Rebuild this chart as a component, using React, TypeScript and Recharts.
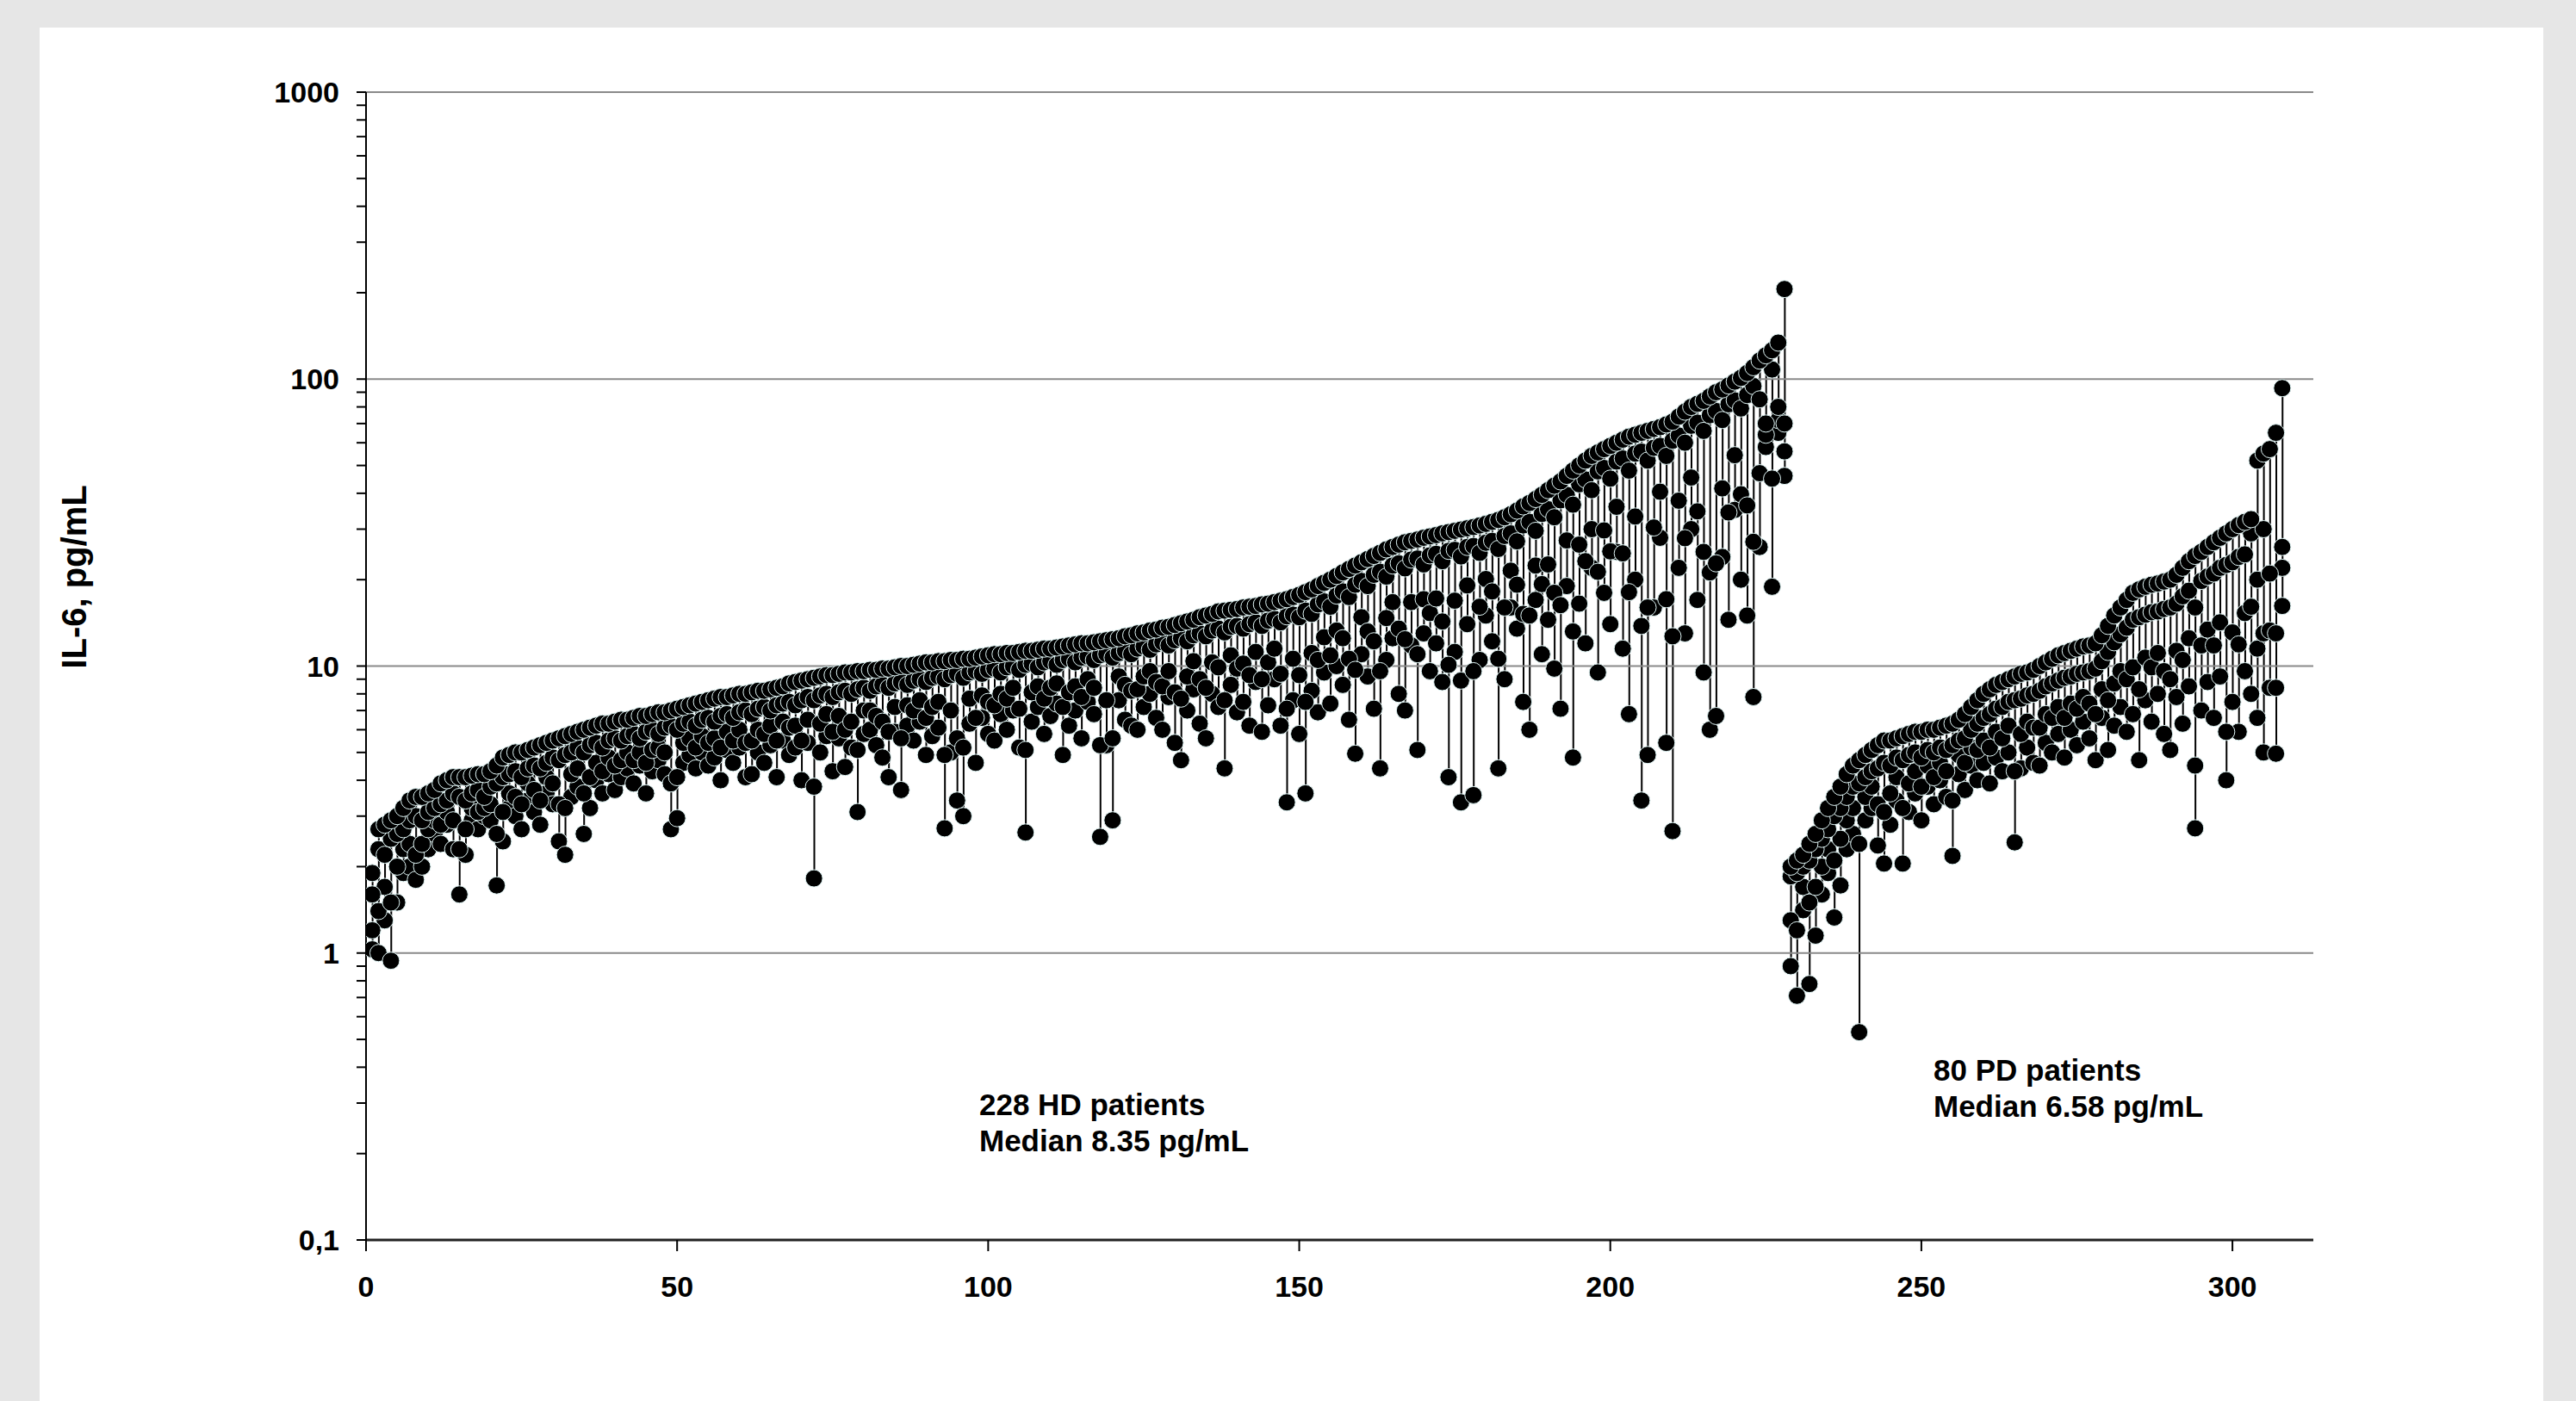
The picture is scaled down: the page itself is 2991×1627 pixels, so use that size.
import React from "react";
import {
  ComposedChart,
  XAxis,
  YAxis,
  Bar,
  Scatter,
  ReferenceLine,
} from "recharts";

const FONT = "'Liberation Sans', Arial, sans-serif";

// HD patients (x = 1..228), IL-6 pg/mL: highest, two middle and lowest value
const hdTop = [
  1.9, 2.7, 2.8, 2.9, 3.0, 3.2, 3.4, 3.5, 3.5, 3.6,
  3.7, 3.9, 4.0, 4.1, 4.1, 4.1, 4.15, 4.2, 4.2, 4.3,
  4.5, 4.8, 4.9, 5.0, 5.0, 5.1, 5.2, 5.3, 5.4, 5.5,
  5.6, 5.7, 5.8, 5.9, 6.0, 6.1, 6.2, 6.3, 6.3, 6.4,
  6.5, 6.5, 6.6, 6.7, 6.7, 6.8, 6.9, 6.9, 7.0, 7.1,
  7.2, 7.3, 7.4, 7.5, 7.6, 7.7, 7.8, 7.8, 7.9, 8.0,
  8.0, 8.1, 8.2, 8.2, 8.3, 8.4, 8.5, 8.7, 8.8, 8.9,
  9.0, 9.1, 9.2, 9.3, 9.3, 9.4, 9.5, 9.5, 9.6, 9.6,
  9.7, 9.7, 9.8, 9.8, 9.9, 10.0, 10.0, 10.1, 10.2, 10.3,
  10.3, 10.4, 10.4, 10.5, 10.5, 10.6, 10.6, 10.7, 10.8, 10.9,
  11.0, 11.0, 11.1, 11.1, 11.2, 11.3, 11.3, 11.4, 11.5, 11.5,
  11.6, 11.7, 11.8, 11.9, 12.0, 12.0, 12.1, 12.2, 12.3, 12.4,
  12.5, 12.7, 12.8, 13.0, 13.1, 13.3, 13.4, 13.6, 13.7, 13.9,
  14.1, 14.3, 14.5, 14.8, 15.0, 15.2, 15.5, 15.6, 15.7, 15.8,
  16.0, 16.1, 16.2, 16.4, 16.5, 16.7, 16.9, 17.1, 17.4, 17.7,
  18.1, 18.5, 19.0, 19.5, 20.0, 20.6, 21.2, 21.8, 22.4, 23.0,
  23.6, 24.2, 24.8, 25.5, 26.0, 26.5, 27.0, 27.3, 27.6, 28.0,
  28.3, 28.6, 29.0, 29.3, 29.6, 29.9, 30.2, 30.5, 30.9, 31.3,
  31.8, 32.3, 33.0, 33.8, 34.8, 36.0, 37.0, 38.2, 39.5, 41.0,
  42.5, 44.0, 46.0, 48.0, 50.0, 52.0, 54.0, 55.5, 57.0, 58.5,
  60.0, 61.5, 63.0, 64.0, 65.0, 66.0, 67.0, 68.0, 69.5, 71.0,
  74.0, 77.0, 80.0, 82.0, 84.0, 87.0, 90.0, 92.0, 95.0, 98.0,
  101, 105, 110, 116, 121, 126, 134, 206,
];

const hdMid1 = [
  1.6, 2.3, 2.2, 2.5, 2.6, 2.7, 2.9, 3.0, 2.9, 3.1,
  3.2, 3.3, 3.4, 3.6, 3.5, 3.4, 3.6, 3.7, 3.5, 3.8,
  3.9, 4.1, 4.2, 4.3, 4.1, 4.4, 4.5, 4.4, 4.6, 4.8,
  4.7, 4.9, 5.0, 5.2, 5.0, 5.3, 5.4, 5.2, 5.5, 5.6,
  5.5, 5.7, 5.8, 5.6, 5.9, 6.0, 5.8, 6.1, 6.2, 6.0,
  6.3, 6.4, 6.2, 6.5, 6.6, 6.4, 6.7, 6.8, 6.6, 6.9,
  7.0, 6.8, 7.1, 7.2, 7.0, 7.3, 7.4, 7.5, 7.3, 7.6,
  7.8, 7.6, 7.9, 8.0, 7.8, 8.1, 8.2, 8.0, 8.3, 8.4,
  8.2, 8.5, 8.6, 8.4, 8.7, 8.8, 8.6, 8.9, 9.0, 8.8,
  9.1, 9.2, 9.0, 9.3, 9.4, 9.1, 9.5, 9.6, 9.4, 9.7,
  9.8, 9.5, 9.9, 10.0, 9.7, 10.1, 10.2, 9.9, 10.3, 10.4,
  10.1, 10.5, 10.6, 10.3, 10.7, 10.8, 10.5, 10.9, 11.0, 10.7,
  11.1, 11.3, 11.0, 11.5, 11.7, 11.4, 11.9, 12.1, 11.8, 12.3,
  12.5, 12.2, 12.8, 13.0, 12.7, 13.3, 13.5, 13.1, 13.7, 13.8,
  13.5, 14.0, 14.2, 13.8, 14.4, 14.6, 14.2, 14.9, 15.1, 14.8,
  15.6, 15.2, 16.4, 16.8, 16.1, 17.6, 18.2, 17.4, 19.2, 19.8,
  19.0, 20.8, 21.3, 20.5, 22.4, 22.8, 21.9, 23.5, 23.7, 22.6,
  24.3, 24.6, 23.2, 25.2, 25.4, 24.1, 26.0, 26.2, 24.8, 26.9,
  27.3, 25.6, 28.4, 29.0, 27.2, 30.9, 31.8, 29.6, 33.9, 35.2,
  33.0, 37.8, 39.5, 36.5, 43.0, 44.7, 41.0, 47.7, 49.0, 45.0,
  51.6, 52.9, 48.0, 55.0, 55.9, 52.0, 57.6, 58.5, 54.0, 61.0,
  63.6, 60.0, 68.8, 70.5, 66.0, 74.8, 77.4, 72.0, 81.7, 84.3,
  79.0, 88.0, 94.6, 85.0, 70.0, 108, 80.0, 70.0,
];

const hdMid2 = [
  1.2, 1.4, 1.7, 1.5, 2.0, 2.3, 2.4, 2.2, 2.4, 2.7,
  2.9, 2.8, 3.1, 2.9, 2.3, 2.7, 3.2, 3.1, 3.2, 3.3,
  2.6, 3.1, 3.6, 3.5, 3.3, 3.9, 3.7, 3.4, 4.1, 3.9,
  3.3, 3.2, 4.2, 4.4, 3.6, 4.1, 4.6, 4.3, 4.8, 4.5,
  4.7, 5.0, 4.7, 5.0, 4.6, 5.1, 5.2, 5.0, 3.9, 4.1,
  5.4, 5.6, 5.2, 5.7, 5.4, 5.6, 5.2, 5.9, 5.5, 6.0,
  5.4, 5.5, 6.0, 5.8, 6.2, 5.5, 6.4, 6.1, 6.2, 5.5,
  6.5, 3.8, 6.3, 6.8, 5.9, 6.7, 6.0, 6.4, 5.1, 7.0,
  7.0, 6.7, 6.4, 5.9, 7.2, 5.6, 7.3, 7.0, 7.6, 6.6,
  7.2, 7.5, 4.9, 7.0, 5.6, 5.2, 7.7, 6.6, 7.9, 7.5,
  7.3, 8.0, 7.7, 8.4, 7.1, 5.1, 8.1, 8.5, 7.7, 8.4,
  8.7, 7.2, 8.1, 8.5, 7.8, 9.0, 8.4, 5.3, 7.6, 5.6,
  9.2, 8.6, 8.2, 8.3, 9.2, 9.6, 8.8, 8.5, 9.6, 8.1,
  7.7, 9.2, 10.4, 9.0, 8.4, 10.3, 9.9, 7.6, 10.9, 9.8,
  10.2, 9.3, 11.2, 9.0, 10.3, 11.5, 9.4, 7.1, 10.6, 9.3,
  7.5, 11.1, 10.5, 12.6, 10.9, 13.3, 12.5, 10.6, 9.7, 14.8,
  13.2, 12.2, 9.6, 14.7, 16.7, 13.5, 12.4, 16.7, 11.0, 17.1,
  15.3, 17.2, 14.3, 10.1, 16.9, 8.9, 19.1, 9.6, 16.1, 20.1,
  18.2, 10.6, 16.0, 21.5, 19.2, 15.2, 15.0, 22.4, 19.3, 22.6,
  18.0, 16.3, 27.4, 13.2, 26.5, 23.2, 30.0, 21.3, 29.7, 25.1,
  35.9, 24.7, 18.1, 33.2, 13.8, 16.0, 30.4, 40.5, 17.1, 12.7,
  37.7, 27.9, 45.4, 34.6, 25.0, 21.2, 22.8, 41.6, 34.3, 54.3,
  39.7, 36.3, 27.1, 47.0, 64.0, 45.0, 72.0, 56.0,
];

const hdLow = [
  1.03, 1.0, 1.3, 0.94, 1.5, 1.9, 2.0, 1.8, 2.0, 2.3,
  2.6, 2.4, 2.8, 2.3, 1.6, 2.2, 2.9, 2.7, 3.0, 2.9,
  1.72, 2.45, 3.2, 3.0, 2.7, 3.4, 3.1, 2.8, 3.6, 3.3,
  2.45, 2.2, 3.5, 3.8, 2.6, 3.2, 4.0, 3.6, 4.2, 3.7,
  4.1, 4.4, 3.9, 4.5, 3.6, 4.3, 4.7, 4.2, 2.7, 2.95,
  4.6, 4.9, 4.4, 5.0, 4.5, 4.8, 4.0, 5.1, 4.6, 5.2,
  4.1, 4.2, 5.0, 4.6, 5.3, 4.1, 5.5, 4.9, 5.2, 4.0,
  5.4, 1.82, 5.0, 5.7, 4.3, 5.6, 4.45, 5.2, 3.1, 5.8,
  6.0, 5.3, 4.8, 4.1, 5.9, 3.7, 6.2, 5.5, 6.4, 4.9,
  5.7, 6.1, 2.72, 5.0, 3.4, 3.0, 6.3, 4.6, 6.6, 5.8,
  5.5, 6.8, 6.0, 7.0, 5.2, 2.63, 6.4, 7.2, 5.8, 6.7,
  7.4, 4.9, 6.2, 7.0, 5.6, 7.5, 6.8, 2.54, 5.3, 2.9,
  7.6, 6.5, 6.2, 6.0, 7.2, 8.0, 6.6, 6.0, 7.8, 5.4,
  4.7, 7.0, 8.3, 6.3, 5.6, 8.0, 7.2, 4.4, 8.6, 6.9,
  7.5, 6.2, 8.8, 5.9, 7.3, 9.0, 6.2, 3.35, 7.6, 5.8,
  3.6, 8.2, 6.9, 9.5, 7.4, 10.0, 8.6, 6.5, 4.95, 11.0,
  9.2, 7.1, 4.4, 10.5, 12.5, 8.0, 7.0, 11.8, 5.1, 13.0,
  9.6, 12.0, 8.8, 4.1, 11.2, 3.35, 14.0, 3.55, 10.5, 15.0,
  12.2, 4.4, 9.0, 16.0, 13.5, 7.5, 6.0, 17.0, 11.0, 14.5,
  9.8, 7.1, 19.0, 4.8, 16.5, 12.0, 22.0, 9.5, 18.0, 14.0,
  25.0, 11.5, 6.8, 20.0, 3.4, 4.9, 16.0, 28.0, 5.4, 2.66,
  22.0, 13.0, 30.0, 17.0, 9.5, 6.0, 6.7, 24.0, 14.5, 35.0,
  20.0, 15.0, 7.8, 26.0, 58.0, 18.9, 65.0, 46.0,
];

// PD patients (x = 229..308)
const pdTop = [
  2.0, 2.1, 2.2, 2.4, 2.6, 2.9, 3.2, 3.5, 3.8, 4.2,
  4.5, 4.7, 4.9, 5.1, 5.3, 5.5, 5.5, 5.6, 5.7, 5.8,
  5.9, 5.9, 6.0, 6.0, 6.1, 6.2, 6.3, 6.5, 6.8, 7.2,
  7.6, 8.0, 8.3, 8.6, 8.8, 9.0, 9.2, 9.4, 9.5, 9.7,
  10.0, 10.3, 10.6, 10.9, 11.1, 11.3, 11.5, 11.7, 11.8, 12.0,
  12.8, 13.8, 15.0, 16.0, 17.0, 18.0, 18.5, 18.9, 19.2, 19.4,
  19.7, 20.0, 20.8, 22.0, 23.2, 24.2, 25.0, 26.0, 27.0, 28.0,
  29.0, 30.0, 31.0, 31.8, 32.5, 52.0, 55.0, 57.0, 65.0, 93.0,
];

const pdMid1 = [
  1.85, 1.9, 2.0, 2.1, 2.3, 2.5, 2.7, 3.0, 3.2, 3.5,
  3.8, 3.9, 4.1, 4.3, 4.4, 4.6, 4.5, 4.8, 4.7, 4.9,
  5.0, 4.8, 5.1, 5.0, 5.2, 5.1, 5.3, 5.5, 5.6, 6.0,
  6.3, 6.6, 6.8, 7.1, 7.2, 7.5, 7.6, 7.7, 7.9, 8.0,
  8.2, 8.5, 8.7, 8.9, 9.1, 9.2, 9.4, 9.5, 9.6, 9.8,
  10.4, 11.2, 12.1, 12.9, 13.6, 14.5, 14.8, 15.1, 15.4, 15.5,
  15.8, 16.0, 16.5, 17.5, 18.3, 16.0, 19.8, 20.5, 21.0, 22.0,
  22.5, 23.0, 24.0, 24.5, 29.0, 20.0, 30.0, 21.0, 13.0, 26.0,
];

const pdMid2 = [
  1.3, 1.2, 1.7, 1.5, 1.7, 2.0, 2.3, 2.1, 2.5, 2.9,
  3.2, 2.4, 3.5, 3.8, 3.3, 3.1, 3.6, 4.1, 3.2, 3.9,
  4.3, 3.8, 4.5, 4.1, 4.6, 4.3, 3.4, 4.9, 4.6, 5.2,
  5.1, 5.5, 5.2, 5.9, 5.6, 6.2, 4.3, 5.8, 6.4, 6.1,
  6.1, 6.8, 6.6, 7.2, 6.6, 7.4, 7.1, 7.8, 7.4, 6.8,
  8.3, 7.6, 8.7, 9.6, 9.0, 9.9, 8.3, 10.7, 9.9, 11.1,
  9.6, 9.0, 11.3, 10.5, 12.5, 4.5, 11.8, 13.4, 11.8, 14.2,
  5.9, 13.1, 11.9, 15.3, 16.1, 11.5, 13.0, 13.3, 8.4, 22.0,
];

const pdLow = [
  0.9, 0.71, 1.41, 0.78, 1.15, 1.6, 1.9, 1.33, 1.72, 2.3,
  2.6, 0.53, 2.9, 3.2, 2.37, 2.05, 2.8, 3.4, 2.05, 3.1,
  3.6, 2.9, 3.8, 3.3, 4.0, 3.5, 2.18, 4.2, 3.7, 4.5,
  4.0, 4.6, 3.9, 4.8, 4.3, 5.0, 2.43, 4.4, 5.2, 4.6,
  4.5, 5.4, 5.0, 5.8, 4.8, 6.0, 5.3, 6.4, 5.6, 4.7,
  6.6, 5.1, 6.2, 7.2, 5.9, 6.8, 4.7, 7.6, 6.4, 8.0,
  5.8, 5.1, 7.8, 6.3, 8.5, 2.72, 7.0, 8.8, 6.6, 9.2,
  4.0, 7.5, 5.9, 9.6, 8.0, 6.6, 5.0, 8.4, 4.95, 16.2,
];

const xTicks = [0, 50, 100, 150, 200, 250, 300];
const yMajor = [0.1, 1, 10, 100, 1000];
const yTicks = [
  0.1, 0.2, 0.3, 0.4, 0.5, 0.6, 0.7, 0.8, 0.9,
  1, 2, 3, 4, 5, 6, 7, 8, 9,
  10, 20, 30, 40, 50, 60, 70, 80, 90,
  100, 200, 300, 400, 500, 600, 700, 800, 900,
  1000,
];

const top = [...hdTop, ...pdTop];
const mid1 = [...hdMid1, ...pdMid1];
const mid2 = [...hdMid2, ...pdMid2];
const low = [...hdLow, ...pdLow];

const rows = top.map((t, i) => ({
  x: i + 1,
  range: [low[i], t],
  top: t,
  mid1: mid1[i],
  mid2: mid2[i],
  low: low[i],
}));

const Dot = (props: any) => {
  if (props.cx == null || props.cy == null) return null;
  return (
    <circle
      cx={props.cx}
      cy={props.cy}
      r={10}
      fill="#000"
      stroke="#dff4f4"
      strokeWidth={1}
    />
  );
};

const tickStyle = {
  fill: "#000",
  fontSize: 34,
  fontWeight: 700,
  fontFamily: FONT,
};

const App = () => {
  return (
    <div
      style={{
        position: "absolute",
        left: 0,
        top: 0,
        width: 2991,
        height: 1627,
        background: "#e6e6e6",
        overflow: "hidden",
      }}
    >
      <div
        style={{
          position: "absolute",
          left: 46,
          top: 32,
          width: 2907,
          height: 1595,
          background: "#fff",
        }}
      />
      <div style={{ position: "absolute", left: 0, top: 0 }}>
        <ComposedChart
          width={2991}
          height={1627}
          data={rows}
          margin={{ top: 107, right: 305, bottom: 87, left: 305 }}
        >
          {yMajor.slice(1).map((v) => (
            <ReferenceLine key={v} y={v} stroke="#8a8a8a" strokeWidth={2} />
          ))}
          <XAxis
            dataKey="x"
            type="number"
            domain={[0, 313]}
            ticks={xTicks}
            interval={0}
            allowDataOverflow
            height={100}
            tickSize={13}
            tickMargin={29}
            tick={tickStyle}
            axisLine={{ stroke: "#222", strokeWidth: 3 }}
            tickLine={{ stroke: "#000", strokeWidth: 2 }}
          />
          <YAxis
            scale="log"
            domain={[0.1, 1000]}
            ticks={yTicks}
            interval={0}
            allowDataOverflow
            width={120}
            tickSize={11}
            tickMargin={20}
            tick={tickStyle}
            tickFormatter={(v: number) =>
              yMajor.includes(v) ? (v === 0.1 ? "0,1" : String(v)) : ""
            }
            axisLine={{ stroke: "#000", strokeWidth: 2 }}
            tickLine={{ stroke: "#000", strokeWidth: 2 }}
          />
          <Bar dataKey="range" barSize={2} fill="#000" isAnimationActive={false} />
          <Scatter dataKey="low" shape={Dot} isAnimationActive={false} />
          <Scatter dataKey="mid2" shape={Dot} isAnimationActive={false} />
          <Scatter dataKey="mid1" shape={Dot} isAnimationActive={false} />
          <Scatter dataKey="top" shape={Dot} isAnimationActive={false} />
        </ComposedChart>
      </div>
      <svg
        width={2991}
        height={1627}
        style={{ position: "absolute", left: 0, top: 0, pointerEvents: "none" }}
        fontFamily={FONT}
        fontWeight={700}
        fill="#000"
      >
        <text
          transform="translate(86,670) rotate(-90)"
          textAnchor="middle"
          dominantBaseline="central"
          fontSize={40}
        >
          IL-6, pg/mL
        </text>
        <text x={1137} y={1295} fontSize={35}>
          228 HD patients
        </text>
        <text x={1137} y={1337} fontSize={35}>
          Median 8.35 pg/mL
        </text>
        <text x={2245} y={1255} fontSize={35}>
          80 PD patients
        </text>
        <text x={2245} y={1297} fontSize={35}>
          Median 6.58 pg/mL
        </text>
      </svg>
    </div>
  );
};

export default App;
